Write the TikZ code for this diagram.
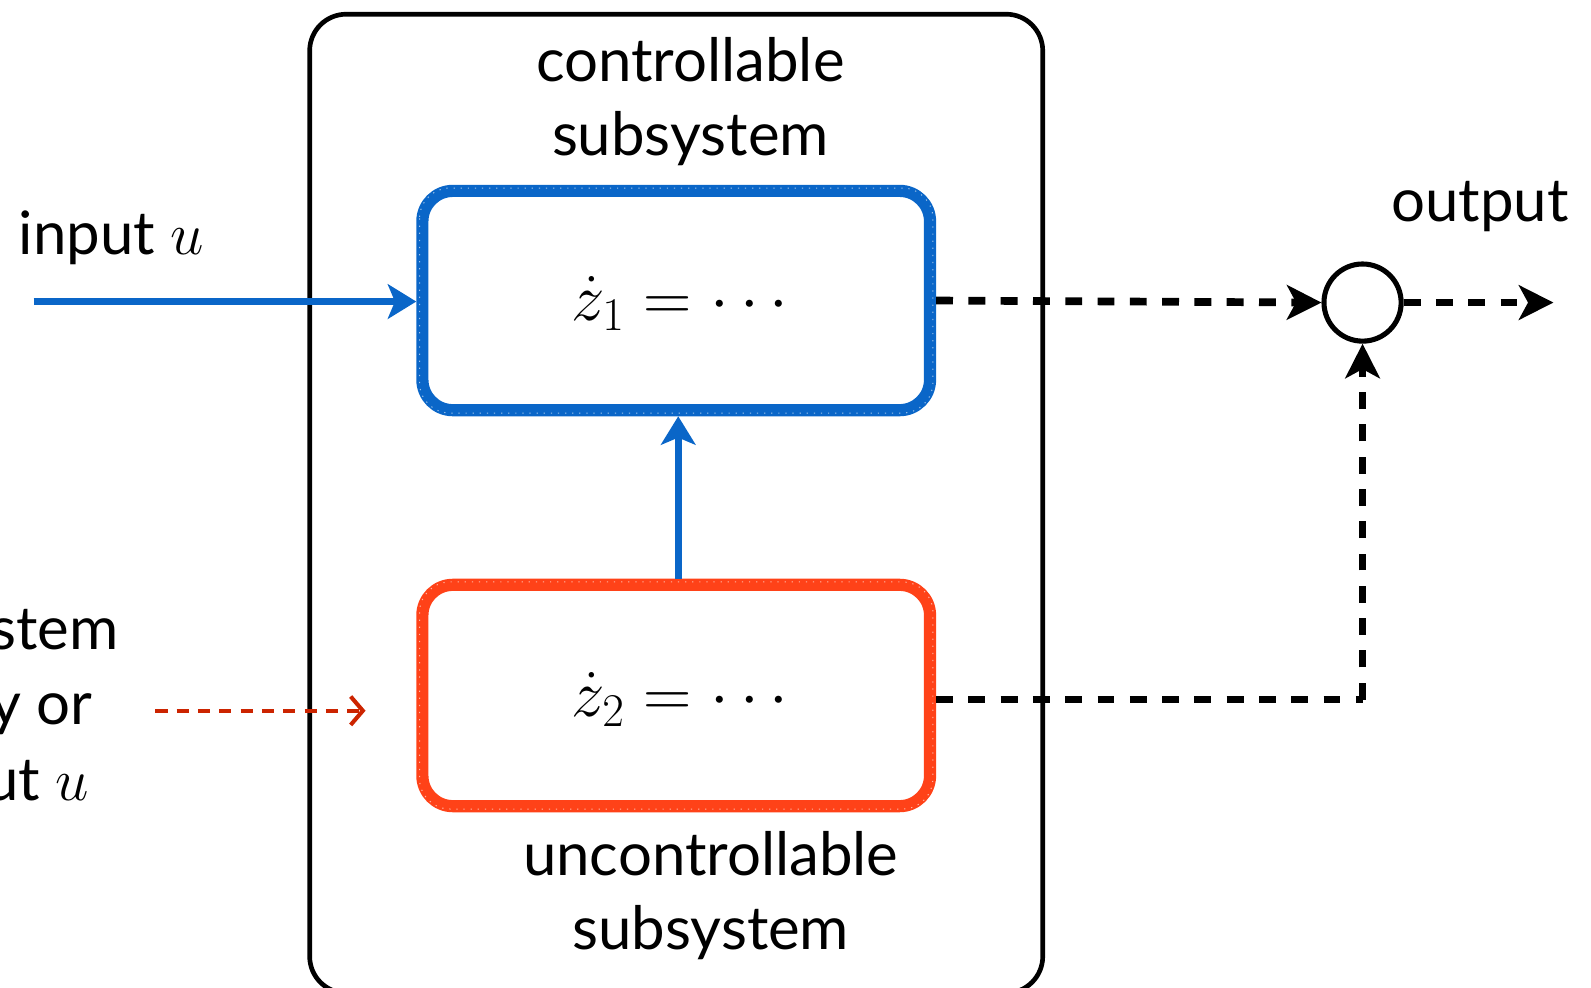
\RequirePackage{fix-cm}
\documentclass[tikz,border=0pt]{standalone}
\usepackage[no-math]{fontspec}
\setmainfont{Lato}
\usetikzlibrary{arrows.meta}
\definecolor{cblue}{RGB}{10,102,200}
\definecolor{cred}{RGB}{255,66,24}
\definecolor{dred}{RGB}{204,36,0}
\begin{document}
\begin{tikzpicture}[x=0.5pt,y=-0.5pt,
  lbl/.style={font=\fontsize{29.5}{35}\selectfont, inner sep=0pt, anchor=base},
  mathlbl/.style={font=\fontsize{33}{39}\selectfont, inner sep=0pt, anchor=base},
  chalk/.style={draw=#1, line width=6pt, rounded corners=15pt,
    minimum width=250pt, minimum height=108pt, inner sep=0pt},
  speck/.style={draw=white, line width=0.5pt, opacity=0.6, rounded corners=15pt},
  outerbox/.style={draw=black, line width=2.3pt, rounded corners=18pt},
  bluearrow/.style={draw=cblue, line width=3.3pt, -{Stealth[length=14pt,width=17pt,inset=3.5pt]}},
  bdash/.style={draw=black, line width=3.8pt, dash pattern=on 8.3pt off 7.6pt, -{Stealth[length=17pt,width=17pt,inset=4.5pt]}},
  bdashline/.style={draw=black, line width=3.8pt, dash pattern=on 8.3pt off 7.6pt},
  rdash/.style={draw=dred, line width=2pt, dash pattern=on 6pt off 4.5pt, -{Straight Barb[length=6pt,width=14pt,line width=2pt]}},
  sumnode/.style={circle, draw=black, line width=2.5pt, minimum size=38pt, inner sep=0pt}
]
\useasboundingbox (0,0) rectangle (1567,973);
% outer system box
\draw[outerbox] (305,14) rectangle (1027,978);
% texts
\node[lbl] (ctl1) at (680,80) {controllable};
\node[lbl] (ctl2) at (680,153) {subsystem};
\node[lbl] (unc1) at (700,862) {uncontrollable};
\node[lbl] (unc2) at (700,935) {subsystem};
\node[lbl, anchor=base west] (inp) at (18,251) {input $u$};
\node[lbl, anchor=base west] (outp) at (1370,218) {output};
\node[lbl, anchor=base east] (l1) at (117,640) {system};
\node[lbl, anchor=base east] (l2) at (91,714) {directly or};
\node[lbl, anchor=base east] (l3) at (88,788) {input $u$};
% subsystem boxes
\node[chalk=cblue] (b1) at (666,296) {};
\node[chalk=cred, minimum height=109pt] (b2) at (666,685) {};
% chalk speckles
\draw[speck, dash pattern=on 0.6pt off 2.9pt] ([shift={(1.6pt,-1.6pt)}]b1.north west) rectangle ([shift={(-1.6pt,1.6pt)}]b1.south east);
\draw[speck, dash pattern=on 0.9pt off 3.7pt] ([shift={(-1.1pt,1.1pt)}]b1.north west) rectangle ([shift={(1.1pt,-1.1pt)}]b1.south east);
\draw[speck, dash pattern=on 0.4pt off 2.3pt] ([shift={(-2.6pt,2.6pt)}]b1.north west) rectangle ([shift={(2.6pt,-2.6pt)}]b1.south east);
\draw[speck, dash pattern=on 0.6pt off 2.9pt] ([shift={(1.6pt,-1.6pt)}]b2.north west) rectangle ([shift={(-1.6pt,1.6pt)}]b2.south east);
\draw[speck, dash pattern=on 0.9pt off 3.7pt] ([shift={(-1.1pt,1.1pt)}]b2.north west) rectangle ([shift={(1.1pt,-1.1pt)}]b2.south east);
\draw[speck, dash pattern=on 0.4pt off 2.3pt] ([shift={(-2.6pt,2.6pt)}]b2.north west) rectangle ([shift={(2.6pt,-2.6pt)}]b2.south east);
\node[mathlbl] (z1) at (670,316) {$\dot z_1 = \cdots$};
\node[mathlbl] (z2) at (670,706) {$\dot z_2 = \cdots$};
% sum junction
\node[sumnode] (sum) at (1342,298) {};
\coordinate (inL) at (33,297);
\coordinate (outR) at (1530,298);
\coordinate (rs) at (153,700);
\coordinate (re) at (360,700);
% connectors
\draw[bluearrow] (inL) -- (inL -| b1.west);
\draw[bluearrow] ([xshift=1pt]b2.north) -- ([xshift=1pt]b1.south);
\draw[bdash] (b1.east) -- (sum.west);
\draw[bdash] (sum.east) -- (outR);
\draw[bdashline] ([yshift=-2pt]b2.east) -- ([yshift=-2pt]b2.east -| sum.south);
\draw[bdash] ([yshift=-2pt]b2.east -| sum.south) -- (sum.south);
\draw[rdash] (rs) -- (re);
\end{tikzpicture}
\end{document}
